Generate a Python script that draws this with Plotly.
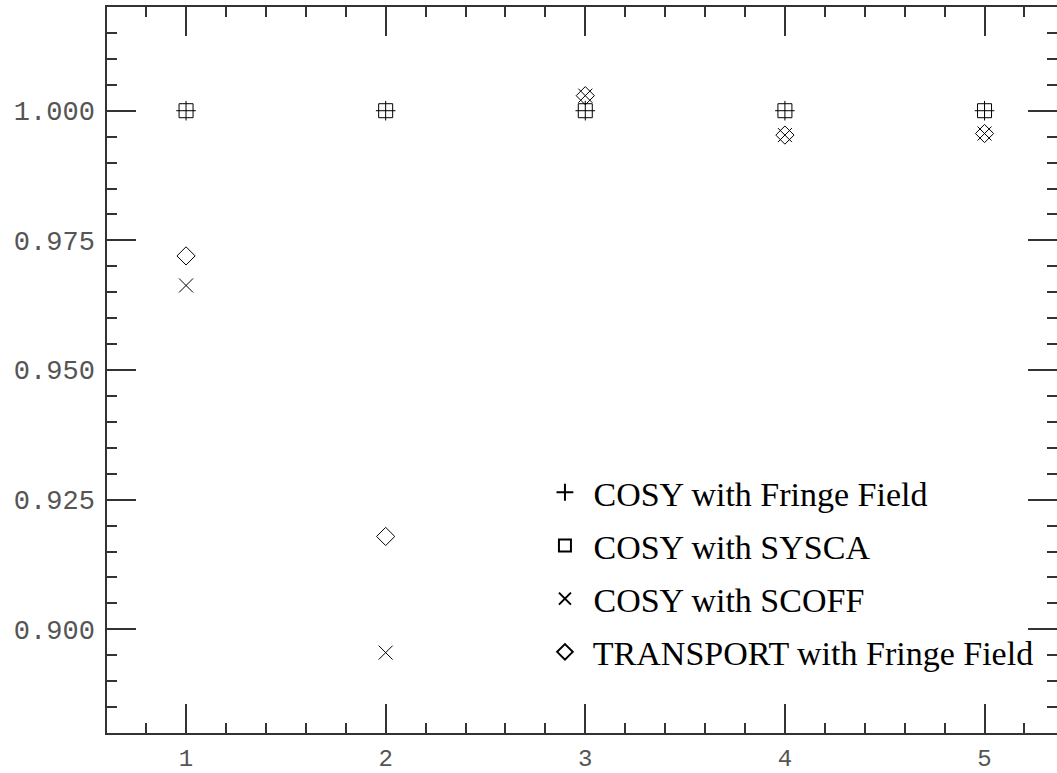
import plotly.graph_objects as go

# ---- data ----
x_vals = [1, 2, 3, 4, 5]
cosy_fringe = [1.0000, 1.0000, 1.0000, 1.0000, 1.0000]
cosy_sysca = [1.0000, 1.0000, 1.0000, 1.0000, 1.0000]
cosy_scoff = [0.9663, 0.8955, 1.0029, 0.9953, 0.9956]
transport_fringe = [0.9720, 0.9179, 1.0029, 0.9953, 0.9956]

series_names = [
    " COSY with Fringe Field",
    " COSY with SYSCA",
    " COSY with SCOFF",
    " TRANSPORT with Fringe Field",
]
series_values = [cosy_fringe, cosy_sysca, cosy_scoff, transport_fringe]
series_symbols = ["cross-thin-open", "square-open", "x-thin-open", "diamond-open"]

fig = go.Figure()
for i, (name, vals, sym) in enumerate(zip(series_names, series_values, series_symbols)):
    fig.add_trace(go.Scatter(
        x=x_vals, y=vals, mode="markers", name=name,
        legendgroup=f"g{i}",
        marker=dict(symbol=sym, size=14, color="black",
                    line=dict(color="black", width=1)),
        cliponaxis=False,
    ))

axis_common = dict(
    showline=True, linecolor="#333", linewidth=1.5, mirror="allticks",
    ticks="inside", ticklen=29, tickwidth=1.5, tickcolor="#333",
    showgrid=False, zeroline=False, automargin=False,
)

fig.update_xaxes(
    range=[0.604, 5.363], tick0=1, dtick=1,
    tickfont=dict(family="Liberation Mono", size=24, color="#555"),
    minor=dict(dtick=0.2, tick0=0, ticks="inside", ticklen=10, tickwidth=1.5, tickcolor="#333"),
    ticklabelstandoff=2,
    **axis_common,
)
fig.update_yaxes(
    range=[0.88, 1.02], tick0=0.9, dtick=0.025, tickformat=".3f",
    tickfont=dict(family="Liberation Mono", size=27, color="#555"),
    minor=dict(dtick=0.005, tick0=0, ticks="inside", ticklen=10, tickwidth=1.5, tickcolor="#333"),
    ticklabelstandoff=5,
    **axis_common,
)

fig.update_layout(
    width=1057, height=773,
    margin=dict(l=107, r=0, t=7, b=40, autoexpand=False),
    paper_bgcolor="white", plot_bgcolor="white",
    legend=dict(
        x=0.461, y=0.371, xanchor="left", yanchor="top",
        font=dict(family="Liberation Serif", size=34, color="black"),
        bgcolor="rgba(0,0,0,0)", traceorder="grouped", tracegroupgap=6,
        itemsizing="constant",
    ),
    showlegend=True,
)

fig.write_html(
    "out.html",
    config={"displayModeBar": False},
    post_script="document.body.style.margin='0';document.body.style.overflow='hidden';",
)
